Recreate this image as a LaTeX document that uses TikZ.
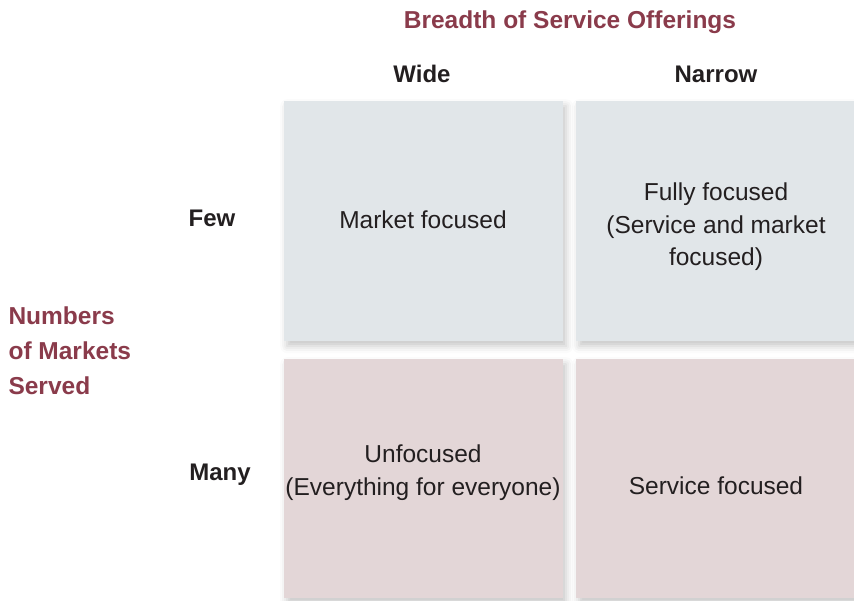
\documentclass[tikz,border=0pt]{standalone}
\usepackage{fontspec}
\setmainfont{Liberation Sans}
\usetikzlibrary{shadows.blur}
\definecolor{maroon}{HTML}{8A3B4B}
\definecolor{bluegray}{HTML}{E1E6E9}
\definecolor{pinkgray}{HTML}{E3D6D7}
\definecolor{txt}{HTML}{231F20}
\tikzset{
  cell/.style={anchor=north west, inner sep=0pt, text=txt, align=center,
    blur shadow={shadow xshift=3pt, shadow yshift=-5pt, shadow blur radius=7pt, shadow opacity=22}},
  body/.style={text=txt, align=center, font=\fontsize{24.5}{32.5}\selectfont},
  head/.style={text=txt, font=\fontsize{24}{28}\selectfont\bfseries},
  axis/.style={text=maroon, font=\fontsize{24.5}{35}\selectfont\bfseries}
}
\begin{document}
\begin{tikzpicture}[x=1pt,y=-1pt]
\useasboundingbox (0,0) rectangle (854,600);
\node[cell, fill=bluegray, minimum width=279pt, minimum height=240pt] (tl) at (284,101) {};
\node[cell, fill=bluegray, minimum width=278pt, minimum height=240pt] (tr) at (576,101) {};
\node[cell, fill=pinkgray, minimum width=279pt, minimum height=239pt] (bl) at (284,359) {};
\node[cell, fill=pinkgray, minimum width=278pt, minimum height=239pt] (br) at (576,359) {};
\node[body] (t1) at (423,220) {Market focused};
\node[body] (t2) at (716,227) {Fully focused\\(Service and market\\focused)};
\node[body] (t3) at (423,472.5) {Unfocused\\(Everything for everyone)};
\node[body] (t4) at (716,486) {Service focused};
\node[axis] (title) at (570,22.5) {Breadth of Service Offerings};
\node[head] (wide) at (422,74) {Wide};
\node[head] (narrow) at (716,74) {Narrow};
\node[head] (few) at (212,218) {Few};
\node[head] (many) at (220,475) {Many};
\node[axis, align=left, anchor=west] (num) at (5,351) {Numbers\\of Markets\\Served};
\end{tikzpicture}
\end{document}
